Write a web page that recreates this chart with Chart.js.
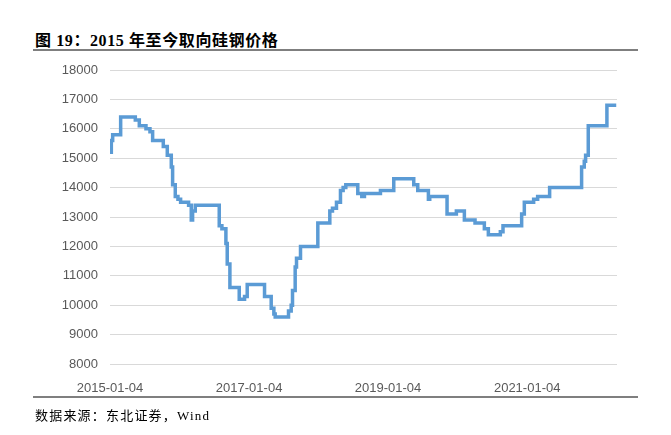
<!DOCTYPE html>
<html>
<head>
<meta charset="utf-8">
<script src="https://cdn.jsdelivr.net/npm/chart.js@4.4.0/dist/chart.umd.min.js"></script>
<style>
  html, body { margin: 0; padding: 0; background: #fff; }
  #wrap { position: relative; width: 671px; height: 435px; overflow: hidden; }
  #chart { position: absolute; left: 0; top: 0; }
  .title {
    position: absolute; left: 35px; top: 27px; white-space: nowrap; letter-spacing: 0.6px;
    font: bold 16px "Liberation Serif", "Noto Sans CJK SC", serif; color: #000;
  }
  .rule { position: absolute; left: 33px; width: 605px; height: 2px; background: #7f7f7f; }
  .source {
    position: absolute; left: 35px; top: 405px; white-space: nowrap;
    font: 13px "Liberation Serif", "Noto Sans CJK SC", serif; color: #000; letter-spacing: 1.2px;
  }
</style>
</head>
<body>
<div id="wrap">
  <div class="title">图 19：2015 年至今取向硅钢价格</div>
  <div class="rule" style="top:49px"></div>
  <canvas id="chart" width="671" height="435"></canvas>
  <div class="rule" style="top:396px"></div>
  <div class="source">数据来源：东北证券，Wind</div>
</div>
<script>
// price changes: each date starts a new price level
const dates = [
  '2015-01-04', '2015-01-11', '2015-01-18', '2015-03-01', '2015-05-17', '2015-06-07',
  '2015-07-12', '2015-08-02', '2015-08-16', '2015-10-11', '2015-11-01', '2015-11-22',
  '2015-11-29', '2015-12-13', '2015-12-27', '2016-01-10', '2016-02-21', '2016-03-06',
  '2016-03-13', '2016-03-27', '2016-07-31', '2016-08-14', '2016-09-04', '2016-09-11',
  '2016-09-25', '2016-11-13', '2016-12-11', '2016-12-25', '2017-03-26', '2017-04-30',
  '2017-05-14', '2017-05-21', '2017-07-30', '2017-08-13', '2017-08-20', '2017-09-03',
  '2017-09-10', '2017-10-01', '2017-12-31', '2018-03-04', '2018-03-18', '2018-04-08',
  '2018-04-29', '2018-05-13', '2018-05-27', '2018-07-29', '2018-08-19', '2018-09-02',
  '2018-11-25', '2019-02-03', '2019-05-19', '2019-06-09', '2019-08-04', '2019-08-11',
  '2019-11-10', '2019-12-29', '2020-02-09', '2020-04-05', '2020-05-24', '2020-06-14',
  '2020-08-16', '2020-08-30', '2020-12-06', '2020-12-20', '2021-02-07', '2021-02-28',
  '2021-05-02', '2021-10-17', '2021-10-31', '2021-11-07', '2021-11-21', '2022-02-27',
  '2022-04-17'
];
const prices = [
  15200, 15600, 15800, 16400, 16300, 16100,
  16000, 15900, 15600, 15400, 15100, 14700,
  14100, 13700, 13600, 13500, 13400, 12900,
  13200, 13400, 12700, 12600, 12100, 11400,
  10600, 10200, 10300, 10700, 10300, 9900,
  9700, 9600, 9800, 10000, 10500, 11300,
  11600, 12000, 12800, 13200, 13300, 13500,
  13900, 14000, 14100, 13800, 13700, 13800,
  13900, 14300, 14100, 13900, 13600, 13700,
  13100, 13200, 12900, 12800, 12600, 12400,
  12500, 12700, 13100, 13500, 13600, 13700,
  14000, 14700, 14900, 15100, 16100, 16800,
  16800
];
const axisStart = '2015-01-04';
const axisEnd = '2022-04-21';
const tickLabels = ['2015-01-04', '2017-01-04', '2019-01-04', '2021-01-04'];
const yMin = 8000, yMax = 18000, yStep = 1000;

const dayOf = s => (Date.parse(s) - Date.parse(axisStart)) / 86400000;

const tickFont = { family: '"Liberation Sans", Arial, sans-serif', size: 13 };

new Chart(document.getElementById('chart').getContext('2d'), {
  type: 'line',
  data: {
    datasets: [{
      data: dates.map((d, i) => ({ x: dayOf(d), y: prices[i] })),
      borderColor: '#5b9bd5',
      borderWidth: 3.5,
      pointRadius: 0,
      stepped: true,
      fill: false
    }]
  },
  options: {
    responsive: false,
    animation: false,
    layout: { padding: { top: 70, right: 54, left: 0, bottom: 0 } },
    plugins: { legend: { display: false }, tooltip: { enabled: false } },
    scales: {
      x: {
        type: 'linear',
        min: 0,
        max: dayOf(axisEnd),
        grid: { display: false },
        border: { display: false },
        afterBuildTicks: axis => { axis.ticks = tickLabels.map(t => ({ value: dayOf(t) })); },
        afterFit: axis => { axis.height = 71; },
        ticks: {
          callback: (v, i) => tickLabels[i],
          color: '#595959',
          font: tickFont,
          padding: 9,
          maxRotation: 0,
          autoSkip: false
        }
      },
      y: {
        min: yMin,
        max: yMax,
        grid: { color: '#d9d9d9', drawTicks: false },
        border: { display: false },
        afterFit: axis => { axis.width = 110; },
        ticks: { stepSize: yStep, color: '#595959', font: tickFont, padding: 12, callback: v => String(v) }
      }
    }
  }
});
</script>
</body>
</html>
